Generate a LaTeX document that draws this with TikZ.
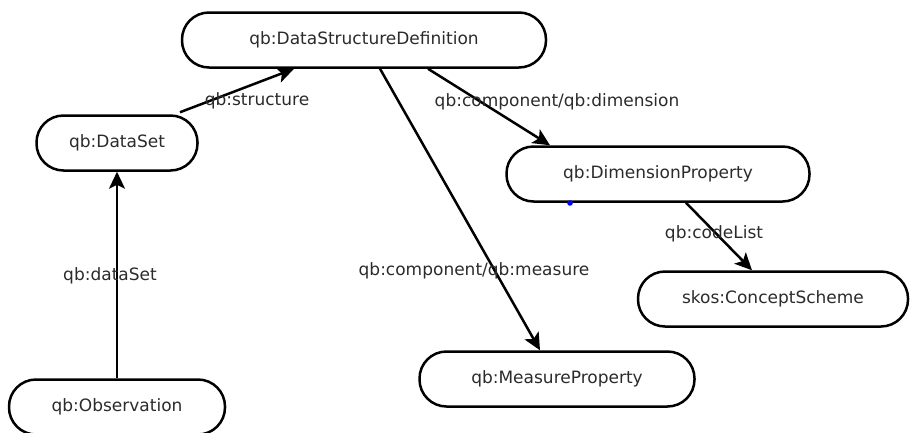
\documentclass[tikz,border=0pt]{standalone}
\usepackage{fontspec}
\setmainfont{DejaVu Sans}
\usetikzlibrary{arrows.meta}
\definecolor{txt}{HTML}{2B2B2B}
\begin{document}
\begin{tikzpicture}[x=1pt,y=-1pt,
  concept/.style={draw=black, line width=2.5pt, fill=white, rectangle,
    rounded corners=27pt, minimum height=55pt, inner sep=0pt,
    text=txt, font=\fontsize{17}{20}\selectfont},
  rel/.style={line width=2.5pt, -{Stealth[length=17pt,width=16pt,inset=4pt]}},
  lbl/.style={text=txt, inner sep=0pt, font=\fontsize{17}{20}\selectfont}]
\useasboundingbox (0,0) rectangle (918,432);

% classes
\node[concept, minimum width=364pt] (dsd) at (364,40) {qb:DataStructureDefinition};
\node[concept, minimum width=161pt] (ds)  at (117,143) {qb:DataSet};
\node[concept, minimum width=303pt] (dim) at (658,174) {qb:DimensionProperty};
\node[concept, minimum width=270pt] (cs)  at (773,299) {skos:ConceptScheme};
\node[concept, minimum width=275pt] (mp)  at (557,379) {qb:MeasureProperty};
\node[concept, minimum width=216pt] (obs) at (117,407) {qb:Observation};

% properties
\draw[rel] (obs.north) -- (ds.south);
\draw[rel] ([xshift=63pt,yshift=2pt]ds.north) -- ([xshift=-70pt]dsd.south);
\draw[rel] ([xshift=64pt]dsd.south) -- ([xshift=-108pt]dim.north);
\draw[rel] ([xshift=16pt]dsd.south) -- ([xshift=-17pt]mp.north);
\draw[rel] ([xshift=28pt]dim.south) -- ([xshift=-21pt]cs.north);

% property labels
\node[lbl] (l1) at (110,276) {qb:dataSet};
\node[lbl] (l2) at (257,101) {qb:structure};
\node[lbl] (l3) at (557,102) {qb:component/qb:dimension};
\node[lbl] (l4) at (474,271) {qb:component/qb:measure};
\node[lbl] (l5) at (714,234) {qb:codeList};

% small blue mark below the dimension property
\fill[blue] (570,203) circle (2.8pt);
\end{tikzpicture}
\end{document}
